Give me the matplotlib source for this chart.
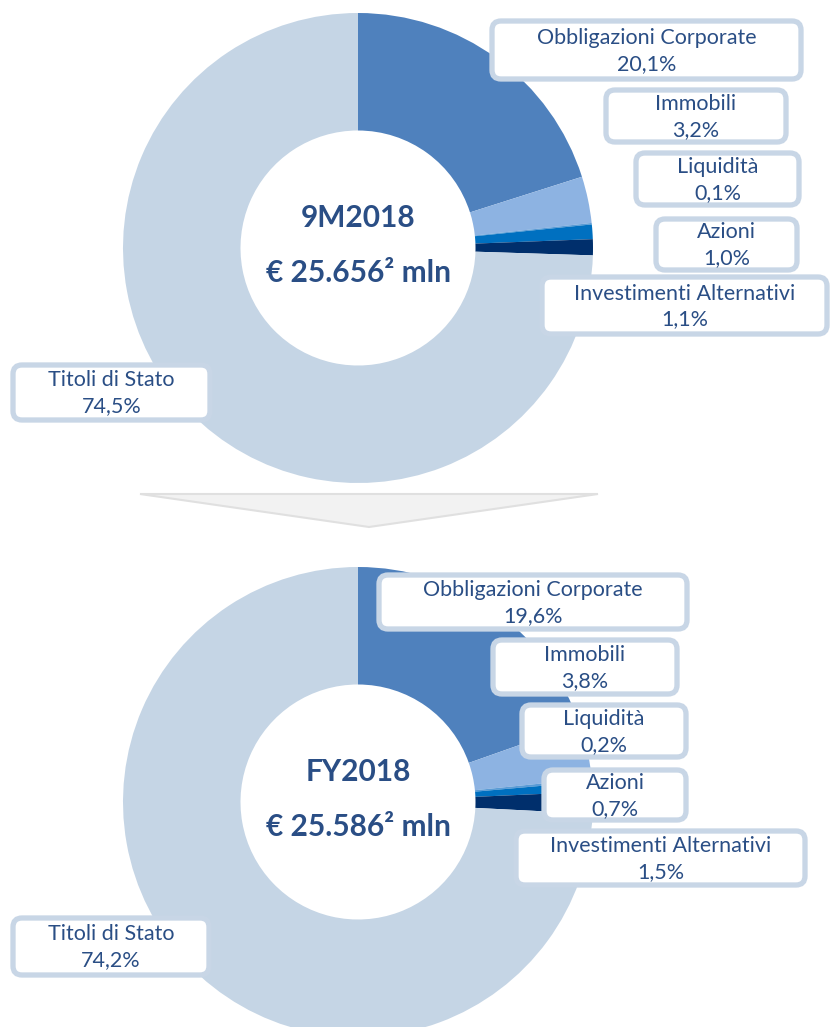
import numpy as np
import matplotlib
matplotlib.use("Agg")
import matplotlib.pyplot as plt
from matplotlib.patches import FancyBboxPatch, Polygon

# data
categories = ["Obbligazioni Corporate", "Immobili", "Liquidità", "Azioni",
              "Investimenti Alternativi", "Titoli di Stato"]
values_9m = [20.1, 3.2, 0.1, 1.0, 1.1, 74.5]
values_fy = [19.6, 3.8, 0.2, 0.7, 1.5, 74.2]
titles = ["9M2018", "FY2018"]
totals = ["€ 25.656² mln", "€ 25.586² mln"]

colors = ["#4F81BD", "#8DB3E2", "#5B9BD5", "#0070C0", "#002F6C", "#C5D5E5"]
txt_col = "#2A4E85"
box_edge = "#C8D6E6"

W, H = 830, 1027
fig = plt.figure(figsize=(W / 100, H / 100), dpi=100)
ax = fig.add_axes([0, 0, 1, 1])

# pixel coords of donut centres (y from the top)
centres = [(358, 248), (358, 802)]
radius = 235
hole = 0.5

# label boxes: (x0, y0, x1, y1) in pixels from the top
boxes = [
    [(489, 18, 804, 82), (603, 87, 789, 145), (633, 150, 802, 208),
     (653, 216, 800, 273), (539, 274, 830, 337), (10, 362, 213, 423)],
    [(376, 572, 690, 632), (490, 637, 680, 697), (519, 702, 689, 760),
     (541, 767, 689, 823), (513, 828, 808, 888), (10, 915, 212, 978)],
]

fam = ["Lato", "DejaVu Sans"]

for k, vals in enumerate([values_9m, values_fy]):
    cx, cy = centres[k]
    ax.pie(vals, colors=colors, startangle=90, counterclock=False,
           center=(cx, H - cy), radius=radius,
           wedgeprops=dict(width=radius * (1 - hole), linewidth=0))
    ax.text(cx, H - cy + 30, titles[k], ha="center", va="center",
            fontsize=21.5, fontweight="bold", color=txt_col, family=fam)
    ax.text(cx, H - cy - 25, totals[k], ha="center", va="center",
            fontsize=21.5, fontweight="bold", color=txt_col, family=fam)
    for name, v, (x0, y0, x1, y1) in zip(categories, vals, boxes[k]):
        p = FancyBboxPatch((x0 + 3, H - y1 + 3), x1 - x0 - 6, y1 - y0 - 6,
                           boxstyle="round,pad=0,rounding_size=9",
                           fc="white", ec=box_edge, lw=3.8, zorder=5)
        ax.add_patch(p)
        xm = (x0 + x1) / 2
        ym = H - (y0 + y1) / 2
        ax.text(xm, ym + 12, name, ha="center", va="center", fontsize=15.5,
                color=txt_col, family=fam, zorder=6)
        ax.text(xm, ym - 14, f"{v:.1f}%".replace(".", ","), ha="center",
                va="center", fontsize=15.5, color=txt_col, family=fam, zorder=6)

# chevron between the two charts
ax.add_patch(Polygon([(140, H - 494), (598, H - 494), (369, H - 527)],
                     closed=True, fc="#F2F2F2", ec="#E0E0E0", lw=1.5))

ax.set_xlim(0, W)
ax.set_ylim(0, H)
ax.set_aspect("equal")
ax.axis("off")

fig.savefig("out.png", dpi=100)
